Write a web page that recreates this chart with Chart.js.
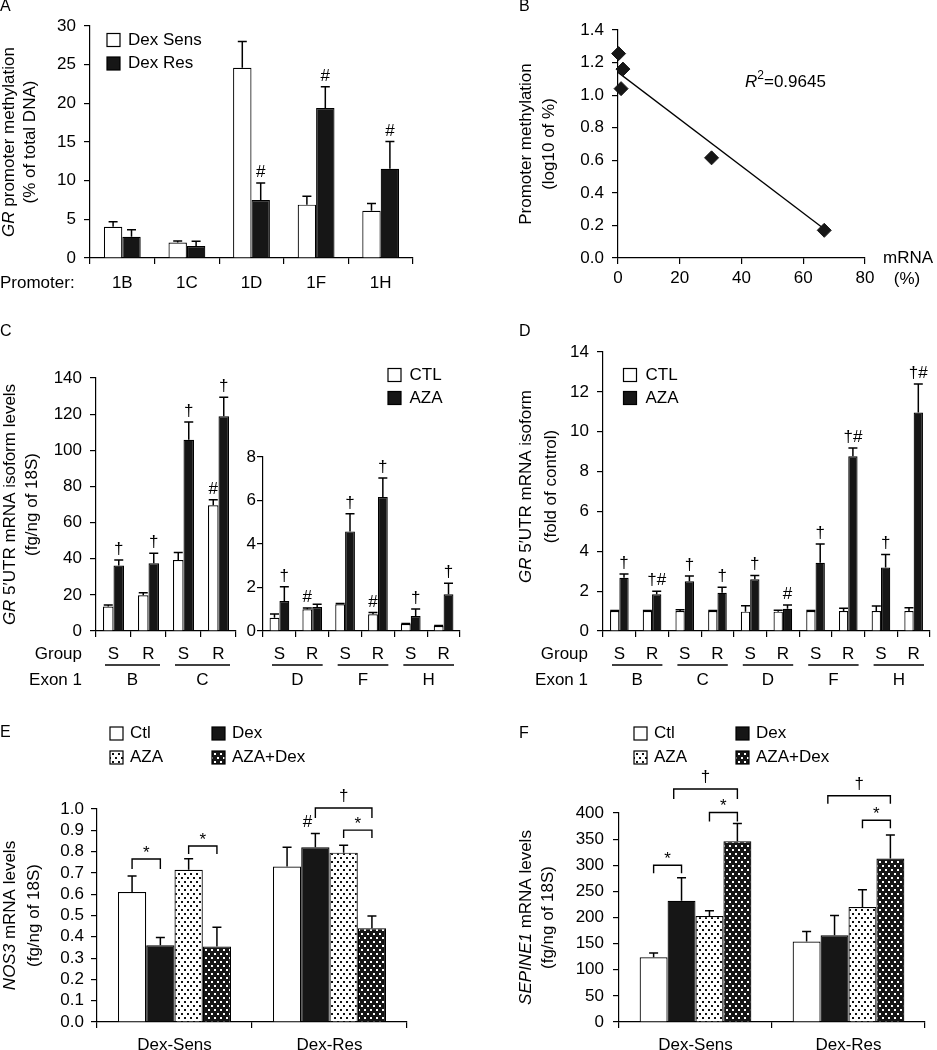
<!DOCTYPE html>
<html lang="en">
<head>
<meta charset="UTF-8">
<title>GR promoter methylation and 5'UTR isoforms</title>
<script src="https://cdn.jsdelivr.net/npm/chart.js@4.4.1/dist/chart.umd.min.js"></script>
<style>
  body { margin: 0; background: #fff; width: 937px; height: 1050px; position: relative; overflow: hidden; }
  .panel { position: absolute; }
</style>
</head>
<body>
<script>
// ---- A: GR promoter methylation (% of total DNA)
const promoters = ['1B', '1C', '1D', '1F', '1H'];
const methSens = [4.05, 2.0, 24.6, 6.9, 6.1];
const methSensErr = [0.65, 0.2, 3.4, 1.1, 0.95];
const methRes = [2.75, 1.55, 7.5, 19.4, 11.55];
const methResErr = [0.9, 0.6, 2.2, 2.75, 3.5];
const methResMarks = ['', '', '#', '#', '#'];

// ---- B: methylation vs mRNA
const mrnaPct = [0.2, 1.6, 1.0, 30.3, 66.8];
const methLog = [1.255, 1.16, 1.04, 0.615, 0.17];
const fitX = [0, 66.7];
const fitY = [1.14, 0.18];

// ---- C: isoform levels, exons B/C (left) and D/F/H (right)
const groupsBC = ['S', 'R', 'S', 'R'];
const exonsBC = ['B', 'C'];
const ctlBC = [13.5, 19.8, 39.3, 69.6];
const ctlBCErr = [0.9, 1.4, 4.1, 3.0];
const azaBC = [36.2, 37.5, 105.8, 118.8];
const azaBCErr = [3.1, 5.5, 9.8, 10.5];
const ctlBCMarks = ['', '', '', '#'];
const azaBCMarks = ['†', '†', '†', '†'];

const groupsDFH = ['S', 'R', 'S', 'R', 'S', 'R'];
const exonsDFH = ['D', 'F', 'H'];
const ctlDFH = [0.61, 1.0, 1.23, 0.77, 0.32, 0.23];
const ctlDFHErr = [0.17, 0.06, 0.04, 0.08, 0.03, 0.02];
const azaDFH = [1.38, 1.1, 4.58, 6.16, 0.69, 1.69];
const azaDFHErr = [0.66, 0.13, 0.81, 0.88, 0.32, 0.51];
const ctlDFHMarks = ['', '#', '', '#', '', ''];
const azaDFHMarks = ['†', '', '†', '†', '†', '†'];

// ---- D: fold of control
const groupsAll = ['S', 'R', 'S', 'R', 'S', 'R', 'S', 'R', 'S', 'R'];
const exonsAll = ['B', 'C', 'D', 'F', 'H'];
const foldCtl = [1.0, 1.0, 1.0, 1.0, 0.97, 0.97, 1.0, 1.0, 1.0, 1.0];
const foldCtlErr = [0.03, 0.03, 0.07, 0.03, 0.3, 0.07, 0.03, 0.14, 0.25, 0.17];
const foldAza = [2.67, 1.84, 2.5, 1.92, 2.6, 1.12, 3.42, 8.77, 3.19, 10.96];
const foldAzaErr = [0.19, 0.16, 0.26, 0.27, 0.19, 0.18, 0.94, 0.41, 0.65, 1.44];
const foldAzaMarks = ['†', '†#', '†', '†', '†', '#', '†', '†#', '†', '†#'];

// ---- E: NOS3 ; F: SEPINE1
const cellLines = ['Dex-Sens', 'Dex-Res'];
const nosCtl = [0.61, 0.73], nosCtlErr = [0.075, 0.09];
const nosDex = [0.36, 0.82], nosDexErr = [0.037, 0.065];
const nosAza = [0.715, 0.795], nosAzaErr = [0.052, 0.035];
const nosAzaDex = [0.355, 0.44], nosAzaDexErr = [0.09, 0.058];

const serCtl = [124, 154], serCtlErr = [8, 19];
const serDex = [232, 166], serDexErr = [44, 38];
const serAza = [203, 220], serAzaErr = [10, 33];
const serAzaDex = [346, 313], serAzaDexErr = [34, 45];

const FONT = "'Liberation Sans', Arial, sans-serif";
const FS = 17;
const BLACK = '#161616';
Chart.defaults.font.family = FONT;
Chart.defaults.font.size = FS;
Chart.defaults.color = '#000';

function dots(bg, fg) {
  const c = document.createElement('canvas');
  c.width = 6; c.height = 8;
  const g = c.getContext('2d');
  g.fillStyle = bg; g.fillRect(0, 0, 6, 8);
  g.fillStyle = fg; g.fillRect(1, 1, 2, 2); g.fillRect(4, 5, 2, 2);
  return g.createPattern(c, 'repeat');
}
const AZA_FILL = dots('#fff', '#111');
const AZADEX_FILL = dots(BLACK, '#fff');

function fontStr(size, italic) { return (italic ? 'italic ' : '') + size + 'px ' + FONT; }

// draws text made of segments ({t, it, sup}); string = one plain segment
function rich(ctx, segs, x, y, align, size) {
  size = size || FS;
  const parts = typeof segs === 'string' ? [{ t: segs }] : segs;
  const sz = p => p.sup ? Math.round(size * 0.7) : size;
  const ws = parts.map(p => { ctx.font = fontStr(sz(p), p.it); return ctx.measureText(p.t).width; });
  const total = ws.reduce((a, b) => a + b, 0);
  let cx = align === 'center' ? x - total / 2 : align === 'right' ? x - total : x;
  ctx.textAlign = 'left';
  parts.forEach((p, k) => {
    ctx.font = fontStr(sz(p), p.it);
    ctx.fillText(p.t, cx, p.sup ? y - size * 0.38 : y);
    cx += ws[k];
  });
}

const decos = {};

const decoPlugin = {
  id: 'deco',
  afterDatasetsDraw(chart) {
    const d = decos[chart.canvas.id];
    if (!d) return;
    const ctx = chart.ctx, ox = d.origin[0], oy = d.origin[1];
    const ys = chart.scales.y, ca = chart.chartArea;
    ctx.save();
    ctx.fillStyle = '#000';
    ctx.strokeStyle = '#000';

    // error bars and significance marks
    (d.err || []).forEach((arr, di) => {
      const meta = chart.getDatasetMeta(di);
      const vals = chart.data.datasets[di].data;
      arr.forEach((e, i) => {
        const bar = meta.data[i];
        const top = ys.getPixelForValue(vals[i] + e);
        if (e > 0) {
          ctx.lineWidth = 1.5;
          ctx.beginPath();
          ctx.moveTo(bar.x, bar.y); ctx.lineTo(bar.x, top);
          ctx.moveTo(bar.x - 4.5, top); ctx.lineTo(bar.x + 4.5, top);
          ctx.stroke();
        }
        let m = d.marks && d.marks[di] && d.marks[di][i];
        if (m) {
          if (typeof m === 'string') m = { t: m };
          ctx.textBaseline = 'alphabetic';
          rich(ctx, m.t, bar.x + (m.dx || 0), Math.min(top, bar.y) - 6, 'center');
        }
      });
    });

    // comparison brackets
    (d.brackets || []).forEach(b => {
      const px = f => {
        const lo = Math.floor(f), hi = Math.ceil(f);
        const a = chart.getDatasetMeta(lo).data[b.cat].x, c = chart.getDatasetMeta(hi).data[b.cat].x;
        return a + (c - a) * (f - lo);
      };
      const x1 = px(b.from), x2 = px(b.to), y = ys.getPixelForValue(b.y);
      ctx.lineWidth = 1.4;
      ctx.beginPath();
      ctx.moveTo(x1, y + b.leg); ctx.lineTo(x1, y); ctx.lineTo(x2, y); ctx.lineTo(x2, y + b.leg);
      ctx.stroke();
      ctx.textBaseline = 'alphabetic';
      rich(ctx, b.t, (x1 + x2) / 2, b.t === '*' ? y - 1 : y - 7, 'center');
    });

    // exon underlines
    if (d.exons) {
      const xs = chart.scales.x, n = chart.data.labels.length, cw = (xs.right - xs.left) / n;
      d.exons.forEach((ex, k) => {
        const l = xs.left + 2 * k * cw, r = l + 2 * cw;
        ctx.lineWidth = 1.3;
        ctx.beginPath(); ctx.moveTo(l + 9, d.exonY[0] - oy); ctx.lineTo(r - 6, d.exonY[0] - oy); ctx.stroke();
        ctx.textBaseline = 'middle';
        rich(ctx, ex, (l + r) / 2 + 1.5, d.exonY[1] - oy, 'center');
      });
    }

    // legend boxes
    (d.legend || []).forEach(it => {
      const x = it.x - ox, y = it.y - oy;
      ctx.fillStyle = it.fill; ctx.fillRect(x, y - 6.5, 13, 13);
      ctx.lineWidth = 1.2; ctx.strokeRect(x, y - 6.5, 13, 13);
      ctx.fillStyle = '#000';
      ctx.textBaseline = 'middle';
      rich(ctx, it.label, x + it.gap, y, 'left');
    });

    // free text
    (d.texts || []).forEach(t => {
      ctx.textBaseline = 'middle';
      rich(ctx, t.t, t.x - ox, t.y - oy, t.a || 'left', t.size);
    });

    // rotated y title
    (d.ytitle || []).forEach(line => {
      ctx.save();
      ctx.translate(line.x - ox, (ca.top + ca.bottom) / 2 + (line.dy || 0));
      ctx.rotate(-Math.PI / 2);
      ctx.textBaseline = 'middle';
      rich(ctx, line.t, 0, 0, 'center');
      ctx.restore();
    });
    ctx.restore();
  }
};
Chart.register(decoPlugin);

function tickGrid() {
  return { drawOnChartArea: false, drawTicks: true, tickLength: 6, color: '#000', lineWidth: 1.2 };
}
function yAxis(min, max, step, pad, digits) {
  return {
    type: 'linear', min: min, max: max,
    ticks: { stepSize: step, padding: pad, color: '#000', font: { size: FS }, autoSkip: false,
      callback: v => digits ? Number(v).toFixed(digits) : v },
    grid: tickGrid(),
    border: { display: true, color: '#000', width: 1.2 }
  };
}
function xCat(pad) {
  const g = tickGrid(); g.offset = true;
  return {
    type: 'category', offset: true,
    ticks: { padding: pad, color: '#000', font: { size: FS }, autoSkip: false, maxRotation: 0 },
    grid: g,
    border: { display: true, color: '#000', width: 1.2 }
  };
}
function bars(data, fill, pct) {
  return { data: data, backgroundColor: fill, borderColor: '#000', borderWidth: 1.2,
    categoryPercentage: pct, barPercentage: 1.0 };
}

// box = canvas [left, top, width, height]; plot = [x0, y0, x1, y1] page coords
function panel(id, box, plot, config, deco) {
  const div = document.createElement('div');
  div.className = 'panel';
  div.style.left = box[0] + 'px'; div.style.top = box[1] + 'px';
  div.style.width = box[2] + 'px'; div.style.height = box[3] + 'px';
  const cv = document.createElement('canvas');
  cv.id = id; cv.width = box[2]; cv.height = box[3];
  div.appendChild(cv);
  document.body.appendChild(div);
  deco.origin = [box[0], box[1]];
  decos[id] = deco;
  const o = config.options;
  o.responsive = false;
  o.animation = false;
  o.plugins = { legend: { display: false }, tooltip: { enabled: false } };
  o.layout = { padding: { left: 0, bottom: 0, top: plot[1] - box[1], right: box[0] + box[2] - plot[2] } };
  o.scales.x.afterFit = s => { s.height = box[1] + box[3] - plot[3]; };
  o.scales.y.afterFit = s => { s.width = plot[0] - box[0]; };
  return new Chart(cv, config);
}

// ---- A
panel('chartA', [0, 0, 468, 300], [90, 26, 413, 258], {
  type: 'bar',
  data: { labels: promoters, datasets: [bars(methSens, '#fff', 0.57), bars(methRes, BLACK, 0.57)] },
  options: { scales: { x: xCat(9), y: yAxis(0, 30, 5, 8) } }
}, {
  err: [methSensErr, methResErr],
  marks: [null, methResMarks],
  legend: [
    { x: 107, y: 40, fill: '#fff', label: 'Dex Sens', gap: 21 },
    { x: 107, y: 63.5, fill: BLACK, label: 'Dex Res', gap: 21 }
  ],
  texts: [{ t: 'A', x: 0, y: 7, size: 16 }, { t: 'Promoter:', x: 0, y: 283 }],
  ytitle: [
    { x: 9, t: [{ t: 'GR', it: true }, { t: ' promoter methylation' }] },
    { x: 30, t: '(% of total DNA)' }
  ]
});

// ---- B
panel('chartB', [470, 0, 467, 300], [618, 30, 865, 258], {
  type: 'scatter',
  data: { datasets: [
    { type: 'line', data: fitX.map((x, i) => ({ x: x, y: fitY[i] })), borderColor: '#000', borderWidth: 1.3,
      pointRadius: 0, fill: false, order: 2 },
    { data: mrnaPct.map((x, i) => ({ x: x, y: methLog[i] })), pointStyle: 'rectRot', pointRadius: 7,
      backgroundColor: BLACK, borderColor: BLACK, clip: false, order: 1 }
  ] },
  options: { scales: {
    x: { type: 'linear', min: 0, max: 80,
      ticks: { stepSize: 20, padding: 4, color: '#000', font: { size: FS } },
      grid: tickGrid(), border: { display: true, color: '#000', width: 1.2 } },
    y: yAxis(0, 1.4, 0.2, 8, 1)
  } }
}, {
  texts: [
    { t: 'B', x: 519, y: 7, size: 16 },
    { t: 'mRNA', x: 908, y: 258, a: 'center' },
    { t: '(%)', x: 907, y: 279, a: 'center' },
    { t: [{ t: 'R', it: true }, { t: '2', sup: true }, { t: '=0.9645' }], x: 745, y: 82 }
  ],
  ytitle: [{ x: 526, t: 'Promoter methylation' }, { x: 549, t: '(log10 of %)' }]
});

// ---- C left (exons B, C)
panel('chartC1', [0, 320, 468, 380], [96, 378, 236, 631], {
  type: 'bar',
  data: { labels: groupsBC, datasets: [bars(ctlBC, '#fff', 0.6), bars(azaBC, BLACK, 0.6)] },
  options: { scales: { x: xCat(7), y: yAxis(0, 140, 20, 8) } }
}, {
  err: [ctlBCErr, azaBCErr],
  marks: [ctlBCMarks, azaBCMarks],
  exons: exonsBC, exonY: [665, 680],
  texts: [
    { t: 'C', x: 0, y: 332, size: 16 },
    { t: 'Group', x: 82, y: 654, a: 'right' },
    { t: 'Exon 1', x: 82, y: 680, a: 'right' }
  ],
  ytitle: [
    { x: 10, t: [{ t: 'GR', it: true }, { t: ' 5′UTR mRNA isoform levels' }] },
    { x: 32, t: '(fg/ng of 18S)' }
  ]
});

// ---- C right (exons D, F, H)
panel('chartC2', [0, 320, 468, 380], [263, 457, 460, 631], {
  type: 'bar',
  data: { labels: groupsDFH, datasets: [bars(ctlDFH, '#fff', 0.6), bars(azaDFH, BLACK, 0.6)] },
  options: { scales: { x: xCat(7), y: yAxis(0, 8, 2, 1) } }
}, {
  err: [ctlDFHErr, azaDFHErr],
  marks: [ctlDFHMarks, azaDFHMarks],
  exons: exonsDFH, exonY: [665, 680],
  legend: [
    { x: 388, y: 375, fill: '#fff', label: 'CTL', gap: 21.5 },
    { x: 388, y: 398, fill: BLACK, label: 'AZA', gap: 21.5 }
  ]
});

// ---- D
panel('chartD', [470, 320, 467, 380], [603, 352, 930, 631], {
  type: 'bar',
  data: { labels: groupsAll, datasets: [bars(foldCtl, '#fff', 0.57), bars(foldAza, BLACK, 0.57)] },
  options: { scales: { x: xCat(7), y: yAxis(0, 14, 2, 8) } }
}, {
  err: [foldCtlErr, foldAzaErr],
  marks: [null, foldAzaMarks],
  exons: exonsAll, exonY: [665, 680],
  legend: [
    { x: 623.5, y: 375, fill: '#fff', label: 'CTL', gap: 22 },
    { x: 623.5, y: 398, fill: BLACK, label: 'AZA', gap: 22 }
  ],
  texts: [
    { t: 'D', x: 519, y: 332, size: 16 },
    { t: 'Group', x: 588, y: 654, a: 'right' },
    { t: 'Exon 1', x: 588, y: 680, a: 'right' }
  ],
  ytitle: [
    { x: 526, t: [{ t: 'GR', it: true }, { t: ' 5′UTR mRNA isoform' }], dy: -5 },
    { x: 551, t: '(fold of control)', dy: -5 }
  ]
});

// ---- E
panel('chartE', [0, 700, 468, 350], [97, 809, 407, 1022], {
  type: 'bar',
  data: { labels: cellLines, datasets: [
    bars(nosCtl, '#fff', 0.73), bars(nosDex, BLACK, 0.73),
    bars(nosAza, AZA_FILL, 0.73), bars(nosAzaDex, AZADEX_FILL, 0.73)
  ] },
  options: { scales: { x: xCat(7), y: yAxis(0, 1.0, 0.1, 7, 1) } }
}, {
  err: [nosCtlErr, nosDexErr, nosAzaErr, nosAzaDexErr],
  marks: [null, ['', { t: '#', dx: -8 }], null, null],
  brackets: [
    { cat: 0, from: 0, to: 1, y: 0.765, leg: 10, t: '*' },
    { cat: 0, from: 2, to: 3, y: 0.826, leg: 8, t: '*' },
    { cat: 1, from: 1, to: 3, y: 1.005, leg: 10, t: '†' },
    { cat: 1, from: 2, to: 3, y: 0.901, leg: 8, t: '*' }
  ],
  legend: [
    { x: 110, y: 733.5, fill: '#fff', label: 'Ctl', gap: 20 },
    { x: 212, y: 733.5, fill: BLACK, label: 'Dex', gap: 20 },
    { x: 110, y: 757.5, fill: AZA_FILL, label: 'AZA', gap: 20 },
    { x: 212, y: 757.5, fill: AZADEX_FILL, label: 'AZA+Dex', gap: 20 }
  ],
  texts: [{ t: 'E', x: 0, y: 733, size: 16 }],
  ytitle: [
    { x: 10, t: [{ t: 'NOS3', it: true }, { t: ' mRNA levels' }] },
    { x: 34, t: '(fg/ng of 18S)' }
  ]
});

// ---- F
panel('chartF', [470, 700, 467, 350], [619, 813, 925, 1022], {
  type: 'bar',
  data: { labels: cellLines, datasets: [
    bars(serCtl, '#fff', 0.73), bars(serDex, BLACK, 0.73),
    bars(serAza, AZA_FILL, 0.73), bars(serAzaDex, AZADEX_FILL, 0.73)
  ] },
  options: { scales: { x: xCat(7), y: yAxis(0, 400, 50, 9) } }
}, {
  err: [serCtlErr, serDexErr, serAzaErr, serAzaDexErr],
  brackets: [
    { cat: 0, from: 0, to: 1, y: 300, leg: 8, t: '*' },
    { cat: 0, from: 0.72, to: 3, y: 446, leg: 10, t: '†' },
    { cat: 0, from: 2, to: 3, y: 401, leg: 9, t: '*' },
    { cat: 1, from: 0.76, to: 3, y: 433, leg: 8, t: '†' },
    { cat: 1, from: 2, to: 3, y: 386, leg: 8, t: '*' }
  ],
  legend: [
    { x: 634, y: 733.5, fill: '#fff', label: 'Ctl', gap: 20 },
    { x: 736, y: 733.5, fill: BLACK, label: 'Dex', gap: 20 },
    { x: 634, y: 757.5, fill: AZA_FILL, label: 'AZA', gap: 20 },
    { x: 736, y: 757.5, fill: AZADEX_FILL, label: 'AZA+Dex', gap: 20 }
  ],
  texts: [{ t: 'F', x: 519, y: 734, size: 16 }],
  ytitle: [
    { x: 526, t: [{ t: 'SEPINE1', it: true }, { t: ' mRNA levels' }] },
    { x: 548.5, t: '(fg/ng of 18S)' }
  ]
});
</script>
</body>
</html>
